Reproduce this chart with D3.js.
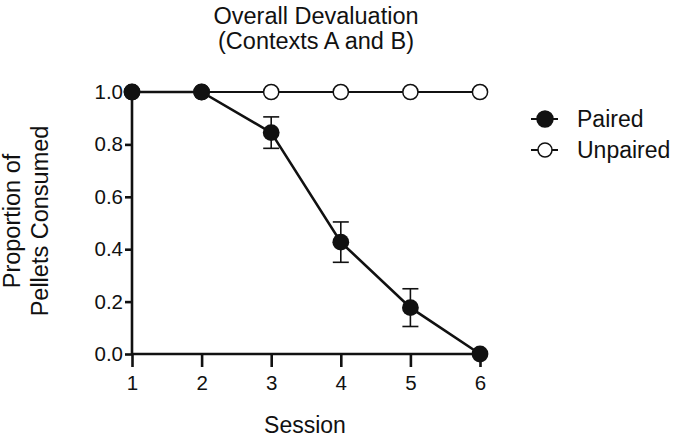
<!DOCTYPE html>
<html><head><meta charset="utf-8">
<script src="https://cdn.jsdelivr.net/npm/d3@7"></script>
<style>body{margin:0;background:#fff}svg{display:block}text{font-family:"Liberation Sans",Arial,sans-serif;fill:#111}</style>
</head><body>
<svg id="c" width="673" height="440"></svg>
<script>
const sessions = [1, 2, 3, 4, 5, 6];
const pairedMean = [1.0, 1.0, 0.845, 0.427, 0.177, 0.0];
const pairedErr = [0, 0, 0.06, 0.077, 0.072, 0];
const unpairedMean = [1.0, 1.0, 1.0, 1.0, 1.0, 1.0];
const yTicks = [0.0, 0.2, 0.4, 0.6, 0.8, 1.0];
const titleLines = ["Overall Devaluation", "(Contexts A and B)"];
const yLabelLines = ["Proportion of", "Pellets Consumed"];
const xLabel = "Session";
const legendNames = ["Paired", "Unpaired"];

const svg = d3.select("#c");
const x = d3.scaleLinear().domain([1, 6]).range([132, 480]);
const y = d3.scaleLinear().domain([0, 1]).range([354, 92]);

const xAxis = svg.append("g").attr("transform", "translate(0,354)")
  .call(d3.axisBottom(x).tickValues(sessions).tickFormat(d3.format("d")).tickSize(13).tickPadding(8));
const yAxis = svg.append("g").attr("transform", "translate(132,0)")
  .call(d3.axisLeft(y).tickValues(yTicks).tickFormat(d3.format(".1f")).tickSize(7).tickPadding(2));
[xAxis, yAxis].forEach(a => {
  a.select(".domain").attr("stroke", "#111").attr("stroke-width", 2.6);
  a.selectAll(".tick line").attr("stroke", "#111").attr("stroke-width", 2.6);
  a.selectAll(".tick text").attr("font-size", 20.5).attr("fill", "#111")
    .attr("font-family", '"Liberation Sans",Arial,sans-serif');
});
xAxis.select(".domain").attr("d", `M${x(1)},0H${x(6)}`);
yAxis.select(".domain").attr("d", `M0,${y(0)}V${y(1)}`);

const line = d3.line().x((d, i) => x(sessions[i])).y(d => y(d));

// Unpaired
svg.append("path").datum(unpairedMean).attr("d", line)
  .attr("fill", "none").attr("stroke", "#111").attr("stroke-width", 2);
svg.selectAll(".up").data(unpairedMean).enter().append("circle")
  .attr("cx", (d, i) => x(sessions[i])).attr("cy", d => y(d)).attr("r", 7.6)
  .attr("fill", "#fff").attr("stroke", "#111").attr("stroke-width", 1.5);

// Paired error bars
const eb = svg.append("g").attr("stroke", "#111").attr("stroke-width", 1.6);
pairedMean.forEach((m, i) => {
  const e = pairedErr[i];
  if (!e) return;
  const cx = x(sessions[i]);
  eb.append("line").attr("x1", cx).attr("x2", cx).attr("y1", y(m + e)).attr("y2", y(m - e));
  eb.append("line").attr("x1", cx - 8).attr("x2", cx + 8).attr("y1", y(m + e)).attr("y2", y(m + e));
  eb.append("line").attr("x1", cx - 8).attr("x2", cx + 8).attr("y1", y(m - e)).attr("y2", y(m - e));
});
svg.append("path").datum(pairedMean).attr("d", line)
  .attr("fill", "none").attr("stroke", "#111").attr("stroke-width", 2.6);
svg.selectAll(".pd").data(pairedMean).enter().append("circle")
  .attr("cx", (d, i) => x(sessions[i])).attr("cy", d => y(d)).attr("r", 8.4)
  .attr("fill", "#111");

// Title
svg.append("text").attr("x", 316).attr("y", 24).attr("text-anchor", "middle").attr("font-size", 23.5).text(titleLines[0]);
svg.append("text").attr("x", 316).attr("y", 49).attr("text-anchor", "middle").attr("font-size", 23.5).text(titleLines[1]);

// Y label
const yl = svg.append("text").attr("transform", "translate(0,221) rotate(-90)").attr("text-anchor", "middle").attr("font-size", 23.5);
yl.append("tspan").attr("x", 0).attr("y", 20).text(yLabelLines[0]);
yl.append("tspan").attr("x", 0).attr("y", 48).text(yLabelLines[1]);

// X label
svg.append("text").attr("x", 305).attr("y", 433).attr("text-anchor", "middle").attr("font-size", 23).text(xLabel);

// Legend
const lg = svg.append("g");
[0, 1].forEach(i => {
  const ly = 119 + i * 31;
  lg.append("line").attr("x1", 531).attr("x2", 558).attr("y1", ly).attr("y2", ly).attr("stroke", "#111").attr("stroke-width", 2);
  lg.append("circle").attr("cx", 545).attr("cy", ly).attr("r", i === 0 ? 8 : 7)
    .attr("fill", i === 0 ? "#111" : "#fff").attr("stroke", "#111").attr("stroke-width", 1.5);
  lg.append("text").attr("x", 577).attr("y", ly + 8).attr("font-size", 23).text(legendNames[i]);
});
</script>
</body></html>
